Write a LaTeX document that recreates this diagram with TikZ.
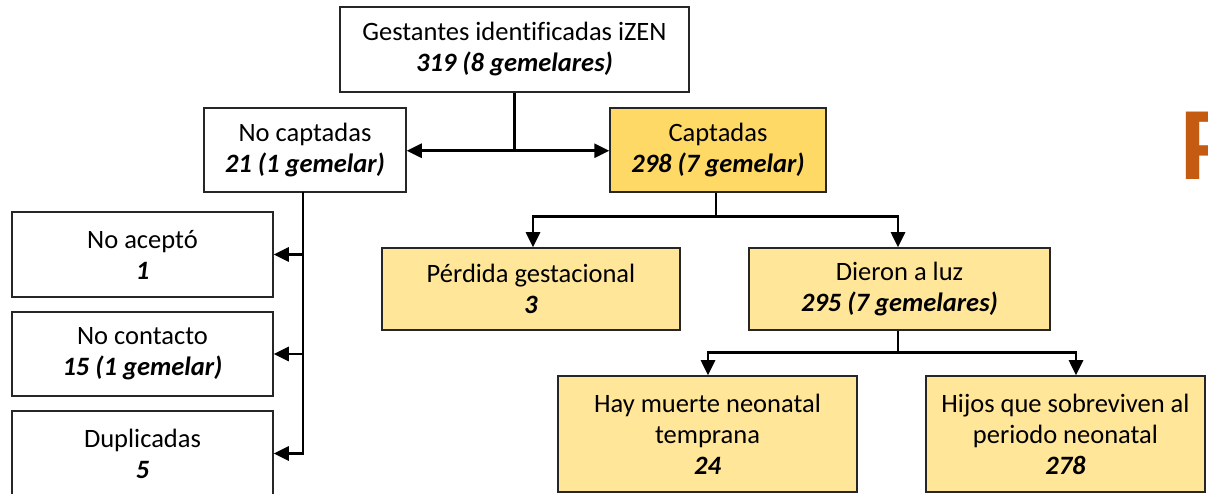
\documentclass[tikz,border=0pt]{standalone}
\usepackage{fontspec}
\setmainfont{Carlito}[Ligatures={NoCommon}]
\usetikzlibrary{arrows.meta,calc}
\definecolor{capfill}{RGB}{255,217,102}
\definecolor{lightfill}{RGB}{255,230,153}
\definecolor{porange}{RGB}{197,90,17}
\tikzset{
  box/.style={draw=black!85, line width=1.5pt, align=center, inner sep=2pt,
    font=\fontsize{26.5}{31}\selectfont},
  arr/.style={draw=black, line width=2.6pt, -{Triangle[length=15pt,width=14pt]}},
  ln/.style={draw=black, line width=2.6pt},
}
\newcommand{\bi}[1]{\textbf{\textit{#1}}}
\begin{document}
\begin{tikzpicture}[x=1pt,y=-1pt]
\useasboundingbox (0,0) rectangle (1208,494);
\clip (0,0) rectangle (1208,494);
\fill[white] (0,0) rectangle (1208,494);

\node[box, fill=white, minimum width=349pt, minimum height=85pt] (top) at (514.5,49.5) {Gestantes identificadas iZEN\\\bi{319 (8 gemelares)}};
\node[box, fill=white, minimum width=202pt, minimum height=84pt] (nocap) at (305,150) {No captadas\\\bi{21 (1 gemelar)}};
\node[box, fill=capfill, minimum width=216pt, minimum height=84pt] (cap) at (718,150) {Captadas\\\bi{298 (7 gemelar)}};

\node[box, fill=white, minimum width=261pt, minimum height=85pt] (noac) at (142.5,254.5) {No aceptó\\\bi{1}};
\node[box, fill=white, minimum width=261pt, minimum height=84pt] (nocon) at (142.5,354) {No contacto\\\bi{15 (1 gemelar)}};
\node[box, fill=white, minimum width=261pt, minimum height=85pt] (dup) at (142.5,453.5) {Duplicadas\\\bi{5}};

\node[box, fill=lightfill, minimum width=298pt, minimum height=82pt] (perd) at (531,289) {Pérdida gestacional\\\bi{3}};
\node[box, fill=lightfill, minimum width=301pt, minimum height=82pt] (dier) at (899.5,289) {Dieron a luz\\\bi{295 (7 gemelares)}};

\node[box, fill=lightfill, minimum width=299pt, minimum height=116pt] (hay) at (707.5,434) {Hay muerte neonatal\\temprana\\\bi{24}};
\node[box, fill=lightfill, minimum width=279pt, minimum height=116pt] (hij) at (1065.5,434) {Hijos que sobreviven al\\periodo neonatal\\\bi{278}};

\node[anchor=base west, inner sep=0pt, text=porange, font=\bfseries\fontsize{104}{104}\selectfont] (pl) at (1180,180) {P};

% connectors
\coordinate (tj) at ($(top.south)+(0,58)$);
\draw[ln] (top.south) -- (tj);
\draw[arr] (tj) -- (nocap.east |- tj);
\draw[arr] (tj) -- (cap.west |- tj);

\coordinate (nj) at (303,192);
\draw[arr] (nj) |- (noac.east);
\draw[arr] (nj) |- (nocon.east);
\draw[arr] (nj) |- (dup.east);

\coordinate (cj) at ($(cap.south)+(-2,24)$);
\draw[ln] (cap.south -| cj) -- (cj);
\draw[arr] (cj) -| ($(perd.north)+(2,0)$);
\draw[arr] (cj) -| ($(dier.north)+(-1.5,0)$);

\coordinate (dj) at ($(dier.south)+(-1.5,22)$);
\draw[ln] (dier.south -| dj) -- (dj);
\draw[arr] (dj) -| ($(hay.north)+(0.5,0)$);
\draw[arr] (dj) -| ($(hij.north)+(10.5,0)$);
\end{tikzpicture}
\end{document}
